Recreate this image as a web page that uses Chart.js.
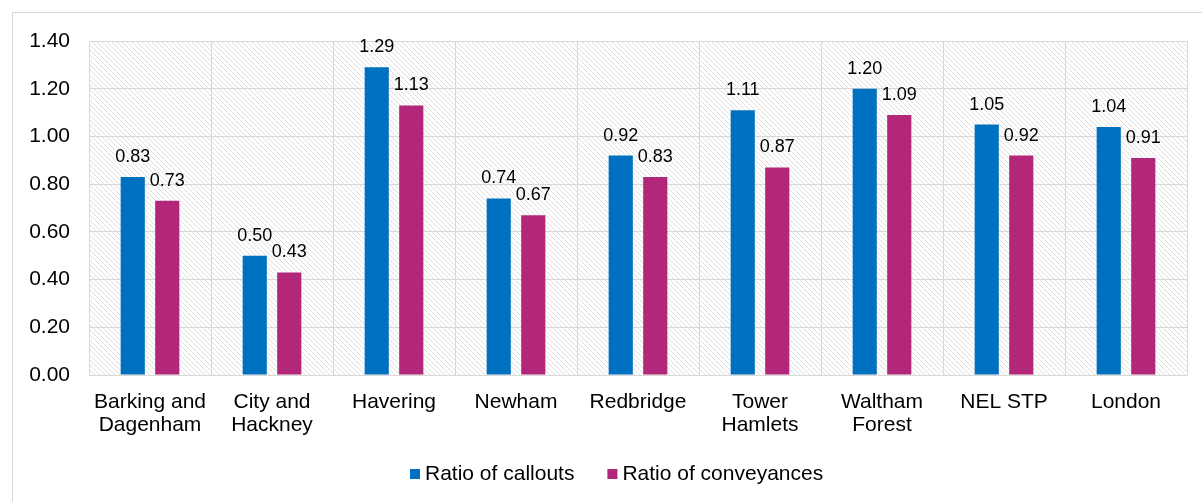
<!DOCTYPE html>
<html>
<head>
<meta charset="utf-8">
<script src="https://cdn.jsdelivr.net/npm/chart.js@4/dist/chart.umd.min.js"></script>
<style>
  html, body { margin: 0; padding: 0; background: #ffffff; }
  #wrap { width: 1202px; height: 502px; }
</style>
</head>
<body>
<div id="wrap"><canvas id="chart" width="1202" height="502"></canvas></div>
<script>
// Boroughs / areas
const categories = [
  ["Barking and", "Dagenham"],
  ["City and", "Hackney"],
  "Havering",
  "Newham",
  "Redbridge",
  ["Tower", "Hamlets"],
  ["Waltham", "Forest"],
  "NEL STP",
  "London"
];

// Series values
const callouts    = [0.83, 0.50, 1.29, 0.74, 0.92, 1.11, 1.20, 1.05, 1.04];
const conveyances = [0.73, 0.43, 1.13, 0.67, 0.83, 0.87, 1.09, 0.92, 0.91];

const seriesNames = ["Ratio of callouts", "Ratio of conveyances"];

// Value axis
const yMin = 0;
const yMax = 1.4;
const yStep = 0.2;

const FONT = "'Liberation Sans', Arial, Helvetica, sans-serif";
const GRID = "#dad7d7";
const BLUE = "#0070C0";
const MAGENTA = "#B3277A";

// Crisp 1px diagonal hatch used behind the plot
function makeHatch(ctx) {
  const s = 5;
  const c = document.createElement("canvas");
  c.width = s; c.height = s;
  const g = c.getContext("2d");
  g.fillStyle = "#ffffff";
  g.fillRect(0, 0, s, s);
  g.fillStyle = "#dedede";
  for (let i = 0; i < s; i++) {
    g.fillRect(i, i, 1, 1);
  }
  return ctx.createPattern(c, "repeat");
}

const framePlugin = {
  id: "frame",
  beforeDraw(chart) {
    const ctx = chart.ctx;
    const a = chart.chartArea;
    ctx.save();
    ctx.fillStyle = "#ffffff";
    ctx.fillRect(0, 0, chart.width, chart.height);
    // outer frame
    ctx.strokeStyle = GRID;
    ctx.lineWidth = 1;
    ctx.beginPath();
    ctx.moveTo(12.5, chart.height);
    ctx.lineTo(12.5, 12.5);
    ctx.lineTo(chart.width, 12.5);
    ctx.stroke();
    // hatched plot background
    ctx.fillStyle = makeHatch(ctx);
    ctx.fillRect(a.left, a.top, a.right - a.left, a.bottom - a.top);
    ctx.restore();
  }
};

const valueLabels = {
  id: "valueLabels",
  afterDatasetsDraw(chart) {
    const ctx = chart.ctx;
    ctx.save();
    ctx.font = "18px " + FONT;
    ctx.fillStyle = "#000000";
    ctx.textAlign = "center";
    ctx.textBaseline = "alphabetic";
    chart.data.datasets.forEach((ds, i) => {
      const meta = chart.getDatasetMeta(i);
      meta.data.forEach((el, j) => {
        ctx.fillText(ds.data[j].toFixed(2), el.x, el.y - 15);
      });
    });
    ctx.restore();
  }
};

const bottomLegend = {
  id: "bottomLegend",
  afterDraw(chart) {
    const ctx = chart.ctx;
    ctx.save();
    ctx.font = "21px " + FONT;
    ctx.textBaseline = "middle";
    ctx.textAlign = "left";
    const box = 10, gapText = 5, gapItem = 33;
    const items = chart.data.datasets.map(ds => ({
      label: ds.label, color: ds.backgroundColor, w: ctx.measureText(ds.label).width
    }));
    let total = 0;
    items.forEach((it, k) => { total += box + gapText + it.w + (k ? gapItem : 0); });
    let x = Math.round(617 - total / 2);
    const cy = 474;
    items.forEach((it) => {
      ctx.fillStyle = it.color;
      ctx.fillRect(x, cy - box / 2, box, box);
      ctx.fillStyle = "#000000";
      ctx.fillText(it.label, x + box + gapText, cy);
      x += box + gapText + it.w + gapItem;
    });
    ctx.restore();
  }
};

new Chart(document.getElementById("chart"), {
  type: "bar",
  data: {
    labels: categories,
    datasets: [
      { label: seriesNames[0], data: callouts, backgroundColor: BLUE },
      { label: seriesNames[1], data: conveyances, backgroundColor: MAGENTA }
    ]
  },
  options: {
    responsive: false,
    animation: false,
    devicePixelRatio: 1,
    layout: { padding: { top: 41, right: 15, left: 0, bottom: 0 } },
    datasets: {
      bar: { categoryPercentage: 0.566, barPercentage: 0.70 }
    },
    plugins: {
      legend: { display: false },
      tooltip: { enabled: false }
    },
    scales: {
      x: {
        grid: { color: GRID, drawTicks: false, offset: true },
        border: { color: GRID },
        ticks: {
          color: "#000000",
          font: { family: FONT, size: 21, lineHeight: 1.12 },
          padding: 15,
          maxRotation: 0,
          autoSkip: false
        },
        afterFit(scale) { scale.height = 127; }
      },
      y: {
        min: yMin,
        max: yMax,
        grid: { color: GRID, drawTicks: false },
        border: { color: GRID },
        ticks: {
          stepSize: yStep,
          color: "#000000",
          font: { family: FONT, size: 21 },
          padding: 19,
          callback: (v) => Number(v).toFixed(2)
        },
        afterFit(scale) { scale.width = 89; }
      }
    }
  },
  plugins: [framePlugin, valueLabels, bottomLegend]
});
</script>
</body>
</html>
